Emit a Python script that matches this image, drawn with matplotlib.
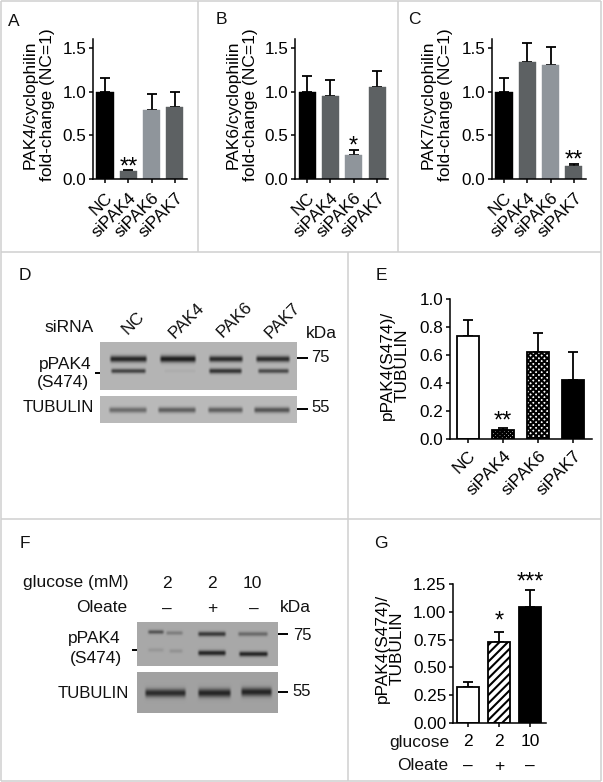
import numpy as np
import matplotlib
matplotlib.use("Agg")
import matplotlib.pyplot as plt

plt.rcParams['font.family'] = ['Liberation Sans', 'DejaVu Sans']
plt.rcParams['hatch.linewidth'] = 1.5

W, H = 603, 782
BLACK, DARK, LIGHT = '#000000', '#5d6163', '#8f959b'

# ---------- data ----------
si_labels = ['NC', 'siPAK4', 'siPAK6', 'siPAK7']
a_vals = [1.00, 0.09, 0.79, 0.82]
a_errs = [1.16, 0.105, 0.975, 0.995]
b_vals = [1.00, 0.95, 0.28, 1.05]
b_errs = [1.18, 1.13, 0.335, 1.24]
c_vals = [1.00, 1.335, 1.30, 0.15]
c_errs = [1.16, 1.56, 1.51, 0.175]
e_vals = [0.735, 0.065, 0.625, 0.425]
e_errs = [0.85, 0.075, 0.76, 0.625]
g_vals = [0.32, 0.73, 1.04]
g_errs = [0.37, 0.82, 1.20]
g_glucose = ['2', '2', '10']
g_oleate = ['–', '+', '–']

# blot bands: (lane x0, lane x1, band y, darkness, thickness)
d_top_bands = [(109, 148, 359, .95, 3.2), (159, 197, 359, 1.0, 3.4), (208, 244, 359, .92, 3.0), (255, 291, 359, .90, 3.0),
               (110, 147, 371, .75, 2.3), (163, 197, 371, .05, 2.0), (208, 243, 371, .85, 2.6), (257, 290, 371, .70, 2.3)]
d_bot_bands = [(108, 148, 410, .50, 2.8), (157, 197, 410, .58, 2.8), (207, 244, 410, .58, 2.8), (253, 291, 410, .65, 2.8)]
f_top_bands = [(147, 165, 632, .60, 2.0), (165, 184, 633, .30, 2.0), (197, 227, 634, .80, 2.4), (237, 269, 634, .45, 2.2),
               (147, 165, 650, .12, 2.0), (168, 184, 651, .15, 2.0), (197, 227, 653, .95, 2.6), (238, 269, 654, .95, 2.5)]
f_bot_bands = [(144, 187, 693, .90, 4.0), (197, 232, 693, .95, 4.2), (240, 273, 692, .95, 4.2)]


def px_axes(fig, x0, x1, y0, y1, **kw):
    return fig.add_axes([x0 / W, 1 - y1 / H, (x1 - x0) / W, (y1 - y0) / H], **kw)


fig = plt.figure(figsize=(W / 100, H / 100), dpi=100, facecolor='white')

# overlay in pixel coordinates for panel frame and annotations
ov = fig.add_axes([0, 0, 1, 1], zorder=5)
ov.set_xlim(0, W)
ov.set_ylim(H, 0)
ov.axis('off')
ov.patch.set_alpha(0)

frame = '#d0d0d0'
for xs, ys in [((1, 601), (1, 1)), ((1, 1), (1, 781)), ((601, 601), (1, 781)), ((1, 601), (781, 781)),
               ((1, 601), (252, 252)), ((198, 198), (1, 252)), ((398, 398), (1, 252)),
               ((348, 348), (252, 781)), ((1, 601), (519, 519))]:
    ov.plot(xs, ys, color=frame, lw=1.1, solid_capstyle='butt')


def barchart(box, ylim, yticks, fmt, xlim, width, vals, errs, colors, ylabel, lab_x, lab_y,
             ticks_fs=12.3, lab_fs=12.5, hatches=None, edge=None, stars=None, spacing=1.25):
    x0, x1, y0, y1 = box
    ax = px_axes(fig, x0, x1, y0, y1)
    xs = np.arange(len(vals))
    up = np.array(errs) - np.array(vals)
    ax.errorbar(xs, vals, yerr=[np.zeros_like(up), up], fmt='none', ecolor='black',
                elinewidth=1.3, capsize=3.6, capthick=1.3, zorder=1)
    for i, v in enumerate(vals):
        ax.bar(i, v, width, color=colors[i], edgecolor=edge[i] if edge else colors[i],
               linewidth=1.3 if edge else 0.3, hatch=hatches[i] if hatches else None, zorder=2)
    ax.set_xlim(*xlim)
    ax.set_ylim(*ylim)
    ax.set_yticks(yticks)
    ax.set_yticklabels([fmt % t for t in yticks], fontsize=ticks_fs)
    ax.set_xticks(xs)
    for s in ('top', 'right'):
        ax.spines[s].set_visible(False)
    for s in ('left', 'bottom'):
        ax.spines[s].set_linewidth(1.1)
    ax.tick_params(axis='both', length=3.2, width=1.1, pad=1.5)
    ax.patch.set_alpha(0)
    ax.set_ylabel(ylabel, fontsize=lab_fs, va='center', ha='center', multialignment='center',
                  linespacing=spacing)
    ax.yaxis.set_label_coords((lab_x - x0) / (x1 - x0), (y1 - lab_y) / (y1 - y0))
    if stars:
        for i, v, s in stars:
            ax.text(i, v, s, ha='center', va='center', fontsize=17)
    return ax


def rot_labels(ax, labels, fs=12.5, pad=4.5):
    ax.set_xticklabels(labels, rotation=45, ha='right', rotation_mode='anchor', fontsize=fs)
    ax.tick_params(axis='x', pad=pad)


cols4 = [BLACK, DARK, LIGHT, DARK]
ax = barchart((93, 187, 39, 179), (0, 1.6), [0, .5, 1, 1.5], '%.1f', (-.515, 3.52), .73, a_vals, a_errs,
              [BLACK, DARK, LIGHT, DARK], 'PAK4/cyclophilin\nfold-change (NC=1)', 39, 105,
              stars=[(1, 0.13, '**')])
rot_labels(ax, si_labels)
ax = barchart((295, 388, 39, 179), (0, 1.6), [0, .5, 1, 1.5], '%.1f', (-.515, 3.47), .73, b_vals, b_errs,
              cols4, 'PAK6/cyclophilin\nfold-change (NC=1)', 242, 105, stars=[(2, 0.37, '*')])
rot_labels(ax, si_labels)
ax = barchart((492, 586, 39, 179), (0, 1.6), [0, .5, 1, 1.5], '%.1f', (-.515, 3.52), .73, c_vals, c_errs,
              cols4, 'PAK7/cyclophilin\nfold-change (NC=1)', 437, 105, stars=[(3, 0.21, '**')])
rot_labels(ax, si_labels)

ax = barchart((450, 592, 299, 439), (0, 1.0), [0, .2, .4, .6, .8, 1.0], '%.1f', (-.514, 3.54), .64,
              e_vals, e_errs, ['white', 'white', 'white', 'black'], 'pPAK4(S474)/\nTUBULIN', 395, 365,
              ticks_fs=12.3, lab_fs=12.4, hatches=[None, 'xxxxxxxx', 'xxxxxx', None], edge=['black'] * 4,
              stars=[(1, 0.125, '**')], spacing=1.0)
rot_labels(ax, si_labels, pad=3.5)

ax = barchart((453, 546, 584, 723), (0, 1.25), [0, .25, .5, .75, 1, 1.25], '%.2f', (-.484, 2.516), .69,
              g_vals, g_errs, ['white', 'white', 'black'], 'pPAK4(S474)/\nTUBULIN', 390, 648,
              ticks_fs=12.3, lab_fs=12.4, hatches=[None, '////', None], edge=['black'] * 3,
              stars=[(1, 0.91, '*'), (2, 1.26, '***')], spacing=1.0)
ax.set_xticklabels(g_glucose, fontsize=12.5)
ax.tick_params(axis='x', pad=5)
for i, s in enumerate(g_oleate):
    ax.annotate(s, xy=(i, 0), xytext=(0, -43), xycoords=('data', 'axes fraction'),
                textcoords='offset pixels', ha='center', va='center', fontsize=12.5)


def blot(x0, x1, y0, y1, bg, bands):
    a = px_axes(fig, x0, x1, y0, y1)
    xx, yy = np.meshgrid(np.arange(x0, x1, .5) + .25, np.arange(y0, y1, .5) + .25)
    img = np.full(xx.shape, bg, dtype=float)
    for bx0, bx1, by, d, sig in bands:
        prof_x = np.clip((xx - bx0) / 3, 0, 1) * np.clip((bx1 - xx) / 3, 0, 1)
        img -= (bg - 0.12) * d * prof_x * np.exp(-((yy - by) / sig) ** 2)
    a.imshow(np.clip(img, 0, 1), cmap='gray', vmin=0, vmax=1, aspect='auto', interpolation='bilinear',
             extent=(x0, x1, y1, y0))
    a.axis('off')


blot(100, 297, 342, 390, .71, d_top_bands)
blot(100, 297, 396, 423, .73, d_bot_bands)
blot(137, 278, 622, 666, .66, f_top_bands)
blot(137, 278, 672, 713, .63, f_bot_bands)

FS = 12.5


def T(x, y, s, ha='center', fs=FS, rot=0):
    ov.text(x, y, s, ha=ha, va='center', fontsize=fs, rotation=rot, color='#111111')


for x, y, s in [(14, 21, 'A'), (221, 20, 'B'), (414, 20, 'C'), (25, 275, 'D'), (381, 275, 'E'),
                (25, 543, 'F'), (381, 543, 'G')]:
    T(x, y, s, fs=12.5)

# panel D
T(94, 327, 'siRNA', ha='right')
for x, y, s in [(133, 323, 'NC'), (187, 321, 'PAK4'), (235, 320, 'PAK6'), (283, 321, 'PAK7')]:
    T(x, y, s, rot=45)
T(321, 333, 'kDa')
T(65, 364, 'pPAK4')
T(63, 383, '(S474)')
T(94, 408, 'TUBULIN', ha='right', fs=12.1)
T(320, 357, '75', fs=12)
T(321, 408, '55', fs=12)
for xs, ys in [((297, 308), (358, 358)), ((297, 308), (409, 409)), ((95, 100), (373, 373))]:
    ov.plot(xs, ys, color='black', lw=1.4, solid_capstyle='butt')

# panel F
T(76, 583, 'glucose (mM)')
for x, s in [(167, '2'), (212, '2'), (252, '10')]:
    T(x, 583, s)
T(102, 607, 'Oleate')
for x, s in [(167, '–'), (212, '+'), (254, '–')]:
    T(x, 609, s)
T(295, 607, 'kDa')
T(94, 638, 'pPAK4')
T(96, 658, '(S474)')
T(129, 693, 'TUBULIN', ha='right', fs=12.1)
T(302, 636, '75', fs=12)
T(302, 692, '55', fs=12)
for xs, ys in [((278, 288), (634, 634)), ((278, 288), (692, 692)), ((132, 137), (650, 650))]:
    ov.plot(xs, ys, color='black', lw=1.4, solid_capstyle='butt')

# panel G row labels
T(419, 742, 'glucose')
T(423, 766, 'Oleate')

fig.savefig('out.png', dpi=100)
